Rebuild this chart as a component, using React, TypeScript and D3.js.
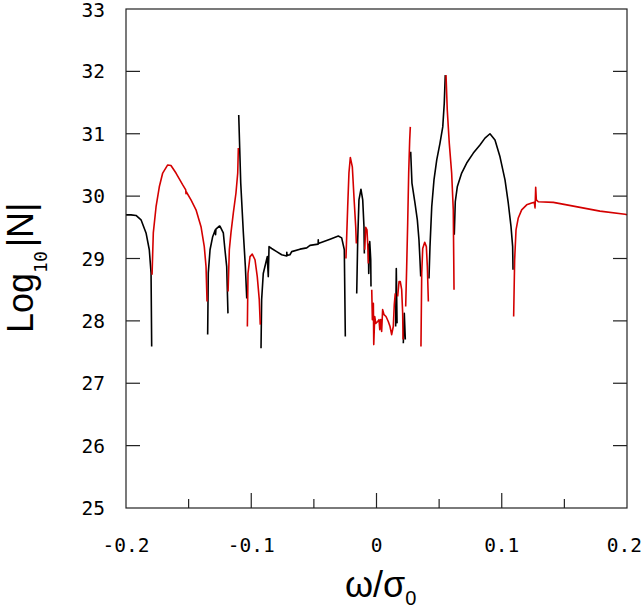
import { useEffect, useRef } from "react";
import * as d3 from "d3";

// ω/σ0 vs log10|N|, two branches (black / red)
const k1 = [[-0.2, 29.7], [-0.196, 29.7], [-0.192, 29.69], [-0.188, 29.62], [-0.184, 29.41], [-0.1814, 29.14], [-0.18, 28.77], [-0.1795, 27.59]];
const r1 = [[-0.1792, 28.74], [-0.1782, 29.41], [-0.176, 29.83], [-0.1734, 30.15], [-0.1707, 30.37], [-0.1667, 30.5], [-0.1641, 30.49], [-0.1601, 30.37], [-0.1547, 30.18], [-0.1523, 30.1], [-0.1521, 30.04], [-0.1519, 30.07], [-0.1481, 29.94], [-0.1441, 29.78], [-0.1401, 29.51], [-0.1375, 29.19], [-0.1361, 28.87], [-0.1353, 28.31]];
const k2 = [[-0.1348, 27.78], [-0.1343, 28.77], [-0.1329, 29.14], [-0.1308, 29.35], [-0.1287, 29.46], [-0.1285, 29.38], [-0.1282, 29.47], [-0.1255, 29.52], [-0.125, 29.52], [-0.1223, 29.41], [-0.121, 29.14], [-0.1196, 28.87], [-0.1186, 28.12]];
const r2 = [[-0.1185, 28.47], [-0.1175, 29.14], [-0.1162, 29.41], [-0.1143, 29.73], [-0.1122, 30.05], [-0.1108, 30.37], [-0.1103, 30.77]];
const k3 = [[-0.11, 31.3], [-0.1084, 30.21], [-0.1063, 29.41], [-0.1047, 28.87], [-0.1036, 28.36]];
const r3 = [[-0.1031, 27.91], [-0.1026, 28.76], [-0.101, 29.03], [-0.0992, 29.07], [-0.097, 28.98], [-0.0952, 28.71], [-0.0936, 28.34], [-0.0928, 27.94]];
const k4 = [[-0.0922, 27.56], [-0.0917, 28.34], [-0.0904, 28.76], [-0.0885, 28.92], [-0.0872, 29.03], [-0.0864, 28.71], [-0.0858, 29.19], [-0.0837, 29.16], [-0.0797, 29.11], [-0.0757, 29.06], [-0.0717, 29.04], [-0.0716, 29.1], [-0.0715, 29.05], [-0.0691, 29.06], [-0.0677, 29.11], [-0.0611, 29.15], [-0.0557, 29.17], [-0.0531, 29.21], [-0.0466, 29.23], [-0.0465, 29.3], [-0.0464, 29.24], [-0.0371, 29.31], [-0.0305, 29.36], [-0.0278, 29.33], [-0.0257, 29.14], [-0.0249, 27.75]];
const r4 = [[-0.0244, 29.0], [-0.023, 29.83], [-0.022, 30.37], [-0.0209, 30.62], [-0.0193, 30.47], [-0.018, 29.99], [-0.0166, 29.51], [-0.0161, 29.24]];
const k5 = [[-0.0158, 28.44], [-0.015, 29.3], [-0.014, 29.94], [-0.0124, 30.11], [-0.011, 29.94], [-0.01, 29.51], [-0.0097, 29.08]];
const r5 = [[-0.0094, 29.14], [-0.0086, 29.5], [-0.0076, 29.46], [-0.0068, 29.14], [-0.0065, 28.92]];
const k6 = [[-0.0065, 29.24], [-0.0062, 28.76], [-0.0054, 29.27], [-0.0046, 28.98], [-0.0044, 28.55]];
const r6 = [[-0.0038, 28.5], [-0.0033, 28.02], [-0.0025, 28.28], [-0.0022, 27.62], [-0.0014, 28.07], [-0.0006, 27.96], [0.001, 27.99], [0.002, 28.02], [0.0026, 27.86], [0.0034, 28.02], [0.0041, 27.83], [0.0049, 28.18], [0.006, 28.1], [0.0076, 28.07], [0.0094, 27.99], [0.0108, 27.91], [0.0121, 27.78], [0.0134, 27.91], [0.0142, 28.26], [0.015, 28.44]];
const k7 = [[0.0153, 27.91], [0.0158, 28.84], [0.0164, 27.96]];
const r7 = [[0.0169, 28.39], [0.018, 28.63], [0.019, 28.63], [0.0201, 28.5], [0.0209, 28.12], [0.0212, 27.7]];
const k8 = [[0.0214, 27.64], [0.0222, 28.12], [0.023, 27.7]];
const r8 = [[0.0233, 28.23], [0.0241, 28.87], [0.0249, 29.57], [0.0257, 30.37], [0.0265, 30.9], [0.027, 31.11]];
const k9 = [[0.0273, 30.71], [0.0283, 30.21], [0.0307, 29.89], [0.0326, 29.62], [0.0339, 29.3], [0.0347, 28.98], [0.0353, 28.71]];
const r9 = [[0.0355, 27.59], [0.0361, 28.76], [0.0369, 29.16], [0.0385, 29.26], [0.0398, 29.19], [0.0406, 28.87], [0.0414, 28.31]];
const k10 = [[0.0419, 28.68], [0.0427, 29.19], [0.0441, 29.83], [0.0459, 30.26], [0.0481, 30.58], [0.0507, 30.85], [0.0529, 31.11], [0.0541, 31.49], [0.0549, 31.94]];
const r10 = [[0.0555, 31.94], [0.0565, 31.38], [0.0581, 30.85], [0.06, 30.37], [0.0613, 29.78], [0.0619, 28.5]];
const k11 = [[0.0621, 29.38], [0.0629, 29.91], [0.0645, 30.15], [0.068, 30.37], [0.072, 30.53], [0.0773, 30.69], [0.0826, 30.82], [0.0866, 30.93], [0.0906, 31.0], [0.0946, 30.9], [0.0986, 30.63], [0.1026, 30.26], [0.1052, 29.89], [0.1074, 29.51], [0.1087, 29.19], [0.109, 28.82]];
const r11 = [[0.1095, 28.07], [0.1103, 28.98], [0.1114, 29.46], [0.1132, 29.65], [0.1159, 29.78], [0.1199, 29.86], [0.1239, 29.89], [0.126, 29.9], [0.1266, 29.81], [0.1271, 30.14], [0.1276, 29.94], [0.1292, 29.91], [0.1412, 29.9], [0.1519, 29.86], [0.1625, 29.82], [0.1784, 29.76], [0.1984, 29.71], [0.2, 29.7]];

const blackBranch = [k1, k2, k3, k4, k5, k6, k7, k8, k9, k10, k11];
const redBranch = [r1, r2, r3, r4, r5, r6, r7, r8, r9, r10, r11];

const yTicks = [25, 26, 27, 28, 29, 30, 31, 32, 33];
const xMajor = [-0.2, -0.1, 0, 0.1, 0.2];
const xMajorLabels = ["-0.2", "-0.1", "0", "0.1", "0.2"];
const xMinor = [-0.15, -0.05, 0.05, 0.15];

export default function App() {
  const svgRef = useRef<SVGSVGElement | null>(null);

  useEffect(() => {
    if (!svgRef.current) return;
    const svg = d3.select(svgRef.current);
    svg.selectAll("*").remove();

    const W = 643;
    const left = 126, right = 627, top = 9, bottom = 508;
    const x = d3.scaleLinear().domain([-0.2, 0.2]).range([left, right]);
    const y = d3.scaleLinear().domain([25, 33]).range([bottom, top]);
    const mono = "'DejaVu Sans Mono', monospace";
    const sans = "'Liberation Sans', sans-serif";

    const line = d3
      .line<number[]>()
      .x((d) => x(d[0]))
      .y((d) => y(d[1]));

    const g = svg.append("g");

    // curves
    blackBranch.forEach((seg) => {
      g.append("path").attr("d", line(seg)).attr("fill", "none")
        .attr("stroke", "#000").attr("stroke-width", 1.6).attr("stroke-linejoin", "round");
    });
    redBranch.forEach((seg) => {
      g.append("path").attr("d", line(seg)).attr("fill", "none")
        .attr("stroke", "#d40000").attr("stroke-width", 1.6).attr("stroke-linejoin", "round");
    });

    // frame
    g.append("rect").attr("x", left).attr("y", top)
      .attr("width", right - left).attr("height", bottom - top)
      .attr("fill", "none").attr("stroke", "#222").attr("stroke-width", 1.2);

    // y ticks (left and right, inward)
    yTicks.slice(1, -1).forEach((t) => {
      g.append("line").attr("x1", left).attr("x2", left + 14)
        .attr("y1", y(t)).attr("y2", y(t)).attr("stroke", "#222").attr("stroke-width", 1.2);
      g.append("line").attr("x1", right).attr("x2", right - 14)
        .attr("y1", y(t)).attr("y2", y(t)).attr("stroke", "#222").attr("stroke-width", 1.2);
    });
    yTicks.forEach((t) => {
      g.append("text").attr("x", 105).attr("y", Math.max(y(t), 10)).attr("dy", "0.36em")
        .attr("text-anchor", "end").style("font-family", mono).style("font-size", "19.5px")
        .attr("fill", "#000").text(String(t));
    });

    // x ticks (bottom, inward)
    xMajor.slice(1, -1).forEach((t) => {
      g.append("line").attr("x1", x(t)).attr("x2", x(t))
        .attr("y1", bottom).attr("y2", bottom - 15).attr("stroke", "#222").attr("stroke-width", 1.2);
    });
    xMinor.forEach((t) => {
      g.append("line").attr("x1", x(t)).attr("x2", x(t))
        .attr("y1", bottom).attr("y2", bottom - 9).attr("stroke", "#222").attr("stroke-width", 1.2);
    });
    xMajor.forEach((t, i) => {
      const isLast = i === xMajor.length - 1;
      g.append("text").attr("x", isLast ? W - 1 : x(t)).attr("y", 552)
        .attr("text-anchor", isLast ? "end" : "middle").style("font-family", mono).style("font-size", "19.5px")
        .attr("fill", "#000").text(xMajorLabels[i]);
    });

    // axis titles
    const xt = g.append("text").attr("x", 345).attr("y", 597)
      .attr("text-anchor", "start").style("font-family", sans)
      .style("font-size", "36px").attr("fill", "#000");
    xt.append("tspan").text("ω/σ");
    xt.append("tspan").attr("dy", 8).style("font-size", "20px").text("0");

    const yt = g.append("text").attr("transform", "translate(33, 333) rotate(-90)")
      .attr("text-anchor", "start").style("font-family", sans)
      .style("font-size", "36px").attr("fill", "#000");
    yt.append("tspan").text("Log");
    yt.append("tspan").attr("dy", 14).style("font-family", mono).style("font-size", "18px").text("10");
    yt.append("tspan").attr("dy", -14).attr("dx", 4).text("|N|");
  }, []);

  return (
    <svg
      ref={svgRef}
      width={643}
      height={610}
      style={{ position: "absolute", left: 0, top: 0, background: "#fff" }}
    />
  );
}
